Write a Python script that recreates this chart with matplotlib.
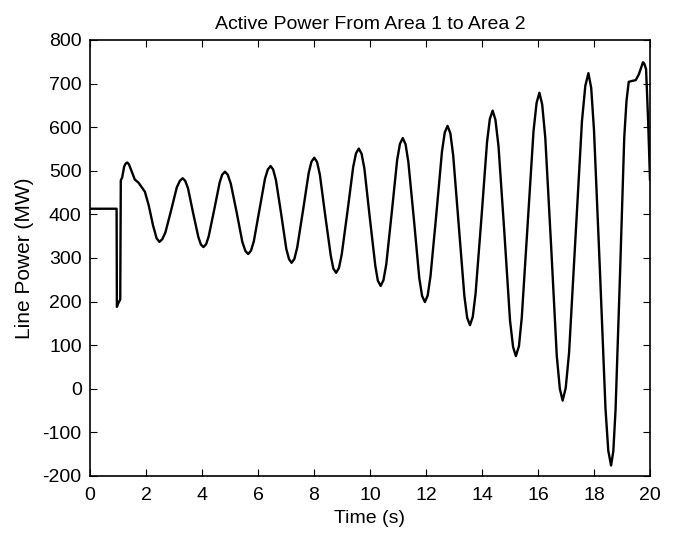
import numpy as np
import matplotlib.pyplot as plt

# time (s) and line power (MW)
t = [0.0, 0.95, 0.96, 1.0, 1.08, 1.1, 1.15, 1.22, 1.28, 1.33, 1.39, 1.45, 1.6, 1.73, 1.96, 2.1, 2.25, 2.38,
     2.48, 2.58, 2.69, 2.90, 3.10, 3.21,
     3.31, 3.40, 3.50, 3.68, 3.87, 3.96,
     4.05, 4.15, 4.24, 4.44, 4.63, 4.72,
     4.82, 4.92, 5.03, 5.24, 5.44, 5.55,
     5.65, 5.75, 5.85, 6.05, 6.25, 6.35,
     6.45, 6.54, 6.64, 6.83, 7.01, 7.11,
     7.2, 7.30, 7.40, 7.61, 7.81, 7.91,
     8.01, 8.11, 8.21, 8.40, 8.60, 8.69,
     8.79, 8.89, 8.99, 9.20, 9.40, 9.50,
     9.6, 9.70, 9.80, 9.99, 10.19, 10.28,
     10.38, 10.48, 10.58, 10.78, 10.97, 11.07,
     11.17, 11.27, 11.37, 11.57, 11.76, 11.86,
     11.96, 12.06, 12.16, 12.37, 12.57, 12.67,
     12.77, 12.87, 12.97, 13.17, 13.37, 13.47,
     13.57, 13.67, 13.77, 13.98, 14.18, 14.28,
     14.38, 14.48, 14.59, 14.80, 15.00, 15.11,
     15.21, 15.32, 15.42, 15.63, 15.84, 15.95,
     16.05, 16.15, 16.26, 16.47, 16.67, 16.78,
     16.88, 16.99, 17.11, 17.34, 17.57, 17.69,
     17.8, 17.90, 18.00, 18.21, 18.41, 18.51,
     18.61, 18.69, 18.77, 18.93, 19.08, 19.16,
     19.24, 19.35, 19.49, 19.6, 19.7, 19.75, 19.8, 19.86, 19.93, 20.0]
p = [413, 413, 188, 195, 205, 478, 485, 510, 517, 519, 515, 505, 480, 473, 452, 420, 375, 345,
     337, 343, 358, 410, 462, 477,
     483, 477, 460, 404, 348, 331,
     325, 332, 350, 412, 473, 491,
     498, 491, 470, 404, 337, 316,
     309, 317, 338, 410, 482, 503,
     511, 503, 479, 400, 321, 297,
     289, 298, 324, 410, 495, 521,
     530, 520, 491, 398, 305, 276,
     266, 277, 308, 409, 509, 540,
     551, 539, 505, 394, 282, 248,
     236, 249, 285, 406, 525, 562,
     575, 561, 520, 387, 254, 213,
     199, 214, 258, 401, 544, 588,
     603, 586, 536, 375, 213, 163,
     146, 165, 218, 392, 566, 619,
     638, 617, 556, 357, 157, 96,
     75, 98, 163, 377, 591, 656,
     679, 652, 576, 326, 76, 0,
     -27, 2, 83, 349, 614, 695,
     724, 690, 593, 274, -45, -142,
     -176, -143, -48, 264, 576, 660,
     704, 706, 708, 721, 740, 749, 745, 733, 620, 480]

plt.rcParams['font.family'] = ['Liberation Sans', 'DejaVu Sans']
plt.rcParams['axes.unicode_minus'] = False
fig = plt.figure(figsize=(6.75, 5.4), dpi=100)
ax = fig.add_axes([90/675, 1-476/540, 560/675, 436/540])
ax.plot(t, p, color='black', lw=1.7, solid_joinstyle='round')
ax.set_xlim(0, 20)
ax.set_ylim(-200, 800)
ax.set_xticks(np.arange(0, 21, 2))
ax.set_yticks(np.arange(-200, 801, 100))
ax.tick_params(direction='in', top=True, right=True, length=5, labelsize=14)
ax.tick_params(axis='x', pad=8)
ax.tick_params(axis='y', pad=6)
ax.set_title('Active Power From Area 1 to Area 2', fontsize=14, pad=8)
ax.set_xlabel('Time (s)', fontsize=14, labelpad=4)
ax.set_ylabel('Line Power (MW)', fontsize=15, labelpad=6)
for s in ax.spines.values():
    s.set_linewidth(1.2)
fig.savefig('out.png', dpi=100)
